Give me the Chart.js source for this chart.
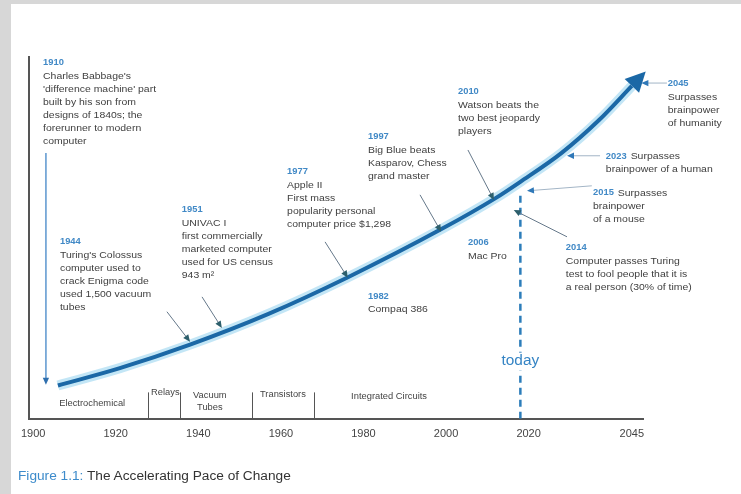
<!DOCTYPE html>
<html>
<head>
<meta charset="utf-8">
<script src="https://cdn.jsdelivr.net/npm/chart.js@4/dist/chart.umd.min.js"></script>
<style>
  body { margin: 0; background: #d7d7d7; }
  #panel { position: absolute; left: 11px; top: 4px; width: 730px; height: 490px; background: #fff; }
  #wrap { position: absolute; left: 0; top: 0; width: 741px; height: 494px; }
  #caption { position: absolute; left: 18px; top: 469px; font: 12px "Liberation Sans", Arial, sans-serif; color: #333;
             transform: scaleX(1.14); transform-origin: left; white-space: nowrap; }
  #caption span { color: #3d8bcb; }
</style>
</head>
<body>
<div id="panel"></div>
<div id="wrap"><canvas id="chart" width="741" height="494"></canvas></div>
<div id="caption"><span>Figure 1.1:</span> The Accelerating Pace of Change</div>
<script>
// Growth curve: year vs relative computing power
const curveYears = [1906, 1921, 1938, 1957, 1976, 1999, 2012, 2018, 2028, 2037, 2045];
const curveLevels = [9.2, 14, 20.5, 29, 39, 52.5, 61, 65.5, 73.5, 82.5, 92];

const tickYears = [1900, 1920, 1940, 1960, 1980, 2000, 2020, 2045];

// Technology eras along the bottom
const eraNames = [['Electrochemical'], ['Relays'], ['Vacuum', 'Tubes'], ['Transistors'], ['Integrated Circuits']];
const eraBounds = [1927.8, 1935.6, 1953, 1968];

const todayYear = 2018;

const milestoneYears = ['1910', '1944', '1951', '1977', '1997', '2010', '1982', '2006', '2014', '2015', '2023', '2045'];
const milestoneText = [
  ["Charles Babbage's", "'difference machine' part", "built by his son from", "designs of 1840s; the", "forerunner to modern", "computer"],
  ["Turing's Colossus", "computer used to", "crack Enigma code", "used 1,500 vacuum", "tubes"],
  ["UNIVAC I", "first commercially", "marketed computer", "used for US census", "943 m\u00b2"],
  ["Apple II", "First mass", "popularity personal", "computer price $1,298"],
  ["Big Blue beats", "Kasparov, Chess", "grand master"],
  ["Watson beats the", "two best jeopardy", "players"],
  ["Compaq 386"],
  ["Mac Pro"],
  ["Computer passes Turing", "test to fool people that it is", "a real person (30% of time)"],
  ["Surpasses", "brainpower", "of a mouse"],
  ["Surpasses", "brainpower of a human"],
  ["Surpasses", "brainpower", "of humanity"]
];

// layout, in axis units: where each note sits and where its arrow points
const noteAt = [[1902.4, 98.3], [1906.5, 48.9], [1936.0, 57.7], [1961.5, 68.2], [1981.1, 77.9], [2002.9, 90.3],
                [1981.1, 33.7], [2005.3, 48.6], [2029.0, 47.2], [2035.6, 62.4], [2038.7, 72.4], [2053.7, 92.5]];
const inlineYear = [false, false, false, false, false, false, false, false, false, true, true, false];
const noteArrows = [
  [1903.1, 73.5, 1903.1, 9.4, 'blue'],
  [1932.4, 29.6, 1938.0, 21.3, 'dark'],
  [1940.9, 33.7, 1945.7, 25.1, 'dark'],
  [1970.7, 48.9, 1976.2, 39.0, 'dark'],
  [1993.7, 61.9, 1998.8, 51.7, 'dark'],
  [2005.3, 74.3, 2011.6, 60.5, 'dark'],
  null, null,
  [2029.3, 50.3, 2016.4, 57.7, 'dark'],
  [2035.3, 64.4, 2019.6, 63.0, 'light'],
  [2037.3, 72.7, 2029.3, 72.7, 'light'],
  [2053.5, 92.8, 2047.3, 92.8, 'light']
];
const eraLabelAt = [[1914.3, 4.2], [1932, 7.2], [1942.8, 6.5], [1960.5, 6.6], [1986.2, 6.1]];

const SX = 1.1;
const LINE = 13;
const FONT = '"Liberation Sans", Arial, sans-serif';

function stretchText(ctx, s, x, y, font, color, align) {
  ctx.save();
  ctx.translate(x, y);
  ctx.scale(SX, 1);
  ctx.font = font;
  ctx.fillStyle = color;
  ctx.textAlign = align || 'left';
  ctx.textBaseline = 'middle';
  ctx.fillText(s, 0, 0);
  const w = ctx.measureText(s).width * SX;
  ctx.restore();
  return w;
}

function arrow(ctx, x1, y1, x2, y2, line, head, lw, size) {
  const a = Math.atan2(y2 - y1, x2 - x1);
  const c = Math.cos(a), s = Math.sin(a);
  ctx.save();
  ctx.strokeStyle = line;
  ctx.lineWidth = lw;
  ctx.beginPath();
  ctx.moveTo(x1, y1);
  ctx.lineTo(x2 - c * size * 0.7, y2 - s * size * 0.7);
  ctx.stroke();
  ctx.fillStyle = head;
  ctx.beginPath();
  ctx.moveTo(x2, y2);
  ctx.lineTo(x2 - size * c + size * 0.45 * s, y2 - size * s - size * 0.45 * c);
  ctx.lineTo(x2 - size * c - size * 0.45 * s, y2 - size * s + size * 0.45 * c);
  ctx.closePath();
  ctx.fill();
  ctx.restore();
}

const arrowStyles = {
  blue: ['#5b96cf', '#2f6fae', 1.5, 7],
  dark: ['#65788a', '#2d5f6c', 1, 7],
  light: ['#a3b5c6', '#2f78b8', 1, 7]
};

const annotations = {
  id: 'annotations',
  afterDatasetsDraw(chart) {
    const ctx = chart.ctx;
    const xs = chart.scales.x, ys = chart.scales.y;
    const px = v => xs.getPixelForValue(v), py = v => ys.getPixelForValue(v);

    // big arrowhead at the end of the curve
    const pts = chart.getDatasetMeta(0).data;
    const end = pts[pts.length - 1];
    let dx = end.x - end.cp1x, dy = end.y - end.cp1y;
    const len = Math.hypot(dx, dy) || 1;
    dx /= len; dy /= len;
    ctx.save();
    ctx.fillStyle = '#1b68a6';
    ctx.beginPath();
    ctx.moveTo(end.x + dx * 20, end.y + dy * 20);
    ctx.lineTo(end.x - dy * 10, end.y + dx * 10);
    ctx.lineTo(end.x + dy * 10, end.y - dx * 10);
    ctx.closePath();
    ctx.fill();
    ctx.restore();

    // era dividers and names
    ctx.save();
    ctx.strokeStyle = '#555';
    ctx.lineWidth = 1;
    eraBounds.forEach(b => {
      ctx.beginPath();
      ctx.moveTo(Math.round(px(b)) + 0.5, py(0));
      ctx.lineTo(Math.round(px(b)) + 0.5, py(7.3));
      ctx.stroke();
    });
    ctx.restore();
    eraNames.forEach((lines, i) => {
      const [ex, ey] = eraLabelAt[i];
      lines.forEach((s, j) => stretchText(ctx, s, px(ex), py(ey) + j * 12, '8.5px ' + FONT, '#444', 'center'));
    });

    // milestone arrows
    noteArrows.forEach(a => {
      if (!a) return;
      const st = arrowStyles[a[4]];
      arrow(ctx, px(a[0]), py(a[1]), px(a[2]), py(a[3]), st[0], st[1], st[2], st[3]);
    });

    // milestone notes
    milestoneYears.forEach((yr, i) => {
      const [nx, ny] = noteAt[i];
      const x0 = px(nx), y0 = py(ny);
      const yw = stretchText(ctx, yr, x0, y0, 'bold 8.5px ' + FONT, '#4189c6');
      milestoneText[i].forEach((s, j) => {
        if (inlineYear[i] && j === 0) {
          stretchText(ctx, s, x0 + yw + 4, y0, '9.5px ' + FONT, '#404040');
        } else {
          const row = inlineYear[i] ? j : j + 1;
          stretchText(ctx, s, x0, y0 + row * LINE, '9.5px ' + FONT, '#404040');
        }
      });
    });

    // "today" marker label
    const tx = px(todayYear), ty = py(15.8);
    ctx.save();
    ctx.fillStyle = '#fff';
    ctx.fillRect(tx - 24, ty - 9, 48, 18);
    ctx.restore();
    stretchText(ctx, 'today', tx, ty, '14px ' + FONT, '#3584c4', 'center');
  }
};

const curve = curveYears.map((yr, i) => ({ x: yr, y: curveLevels[i] }));

new Chart(document.getElementById('chart'), {
  type: 'line',
  data: {
    datasets: [
      { data: curve, borderColor: '#1b68a6', borderWidth: 4, pointRadius: 0, cubicInterpolationMode: 'monotone', clip: false },
      { data: curve, borderColor: 'rgba(135, 205, 238, 0.5)', borderWidth: 10, pointRadius: 0, cubicInterpolationMode: 'monotone', clip: false },
      { data: [{ x: todayYear, y: 0 }, { x: todayYear, y: 62 }], borderColor: '#2c7dba', borderWidth: 2.5, borderDash: [7, 5], pointRadius: 0 }
    ]
  },
  options: {
    responsive: false,
    animation: false,
    devicePixelRatio: 1,
    layout: { padding: { left: 29, right: 98, top: 57, bottom: 44 } },
    plugins: { legend: { display: false }, tooltip: { enabled: false } },
    scales: {
      x: {
        type: 'linear',
        min: 1899,
        max: 2047.7,
        grid: { display: false, drawTicks: false },
        border: { display: true, color: '#555', width: 2 },
        afterBuildTicks: scale => { scale.ticks = tickYears.map(v => ({ value: v })); },
        ticks: { padding: 9, color: '#444', font: { family: FONT, size: 11 }, maxRotation: 0, autoSkip: false,
                 callback: v => String(v) }
      },
      y: {
        min: 0,
        max: 100,
        grid: { display: false, drawTicks: false },
        border: { display: true, color: '#555', width: 2 },
        ticks: { display: false }
      }
    }
  },
  plugins: [annotations]
});
</script>
</body>
</html>
